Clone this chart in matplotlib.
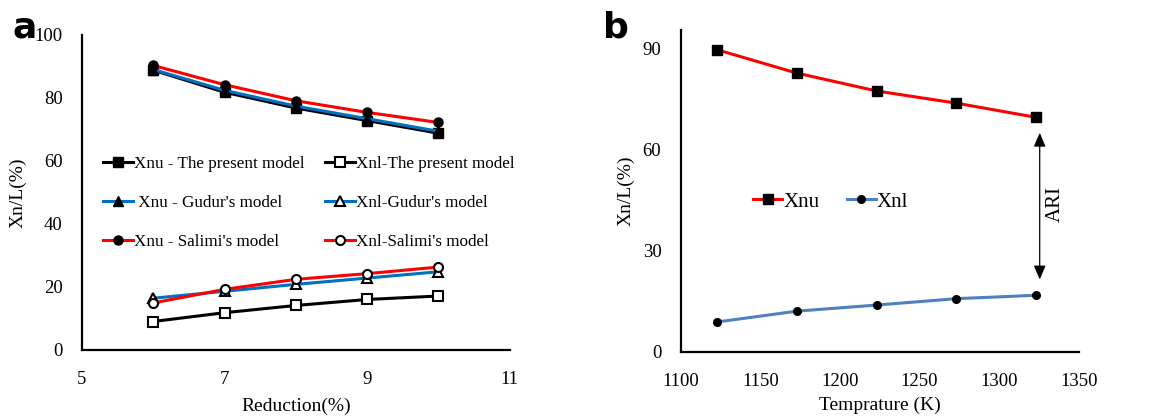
import matplotlib
matplotlib.use("Agg")
import matplotlib.pyplot as plt

plt.rcParams['font.family'] = ['Liberation Serif', 'DejaVu Serif']

# panel a: reduction (%) vs Xn/L (%)
reduction = [6, 7, 8, 9, 10]
xnu_present = [88.8, 81.8, 76.8, 72.8, 68.8]
xnu_gudur = [89.0, 82.4, 77.4, 73.4, 69.4]
xnu_salimi = [90.3, 84.2, 79.1, 75.4, 72.2]
xnl_present = [9.0, 11.8, 14.1, 16.0, 17.1]
xnl_gudur = [16.4, 18.6, 20.8, 22.8, 24.8]
xnl_salimi = [14.9, 19.2, 22.4, 24.2, 26.3]

# panel b: temperature (K) vs Xn/L (%)
temperature = [1123, 1173, 1223, 1273, 1323]
xnu_temp = [89.6, 82.7, 77.4, 73.8, 69.6]
xnl_temp = [8.9, 12.1, 13.9, 15.8, 16.8]

RED = '#FF0000'
BLUE_A = '#0070C0'
BLUE_B = '#4F81BD'
lw = 2.2
ms = 6.5

fig = plt.figure(figsize=(11.5, 4.16), dpi=100)
ax1 = fig.add_axes([0.0713, 0.159, 0.372, 0.757])
ax2 = fig.add_axes([0.592, 0.154, 0.346, 0.774])

# --- panel a
ax1.plot(reduction, xnu_present, color='black', lw=lw, marker='s', ms=ms,
         mfc='black', mec='black', label='Xnu - The present model')
ax1.plot(reduction, xnl_present, color='black', lw=lw, marker='s', ms=ms,
         mfc='white', mec='black', mew=1.5, label='Xnl-The present model')
ax1.plot(reduction, xnu_gudur, color=BLUE_A, lw=lw, marker='^', ms=ms,
         mfc='black', mec='black', label=" Xnu - Gudur's model")
ax1.plot(reduction, xnl_gudur, color=BLUE_A, lw=lw, marker='^', ms=ms,
         mfc='white', mec='black', mew=1.5, label="Xnl-Gudur's model")
ax1.plot(reduction, xnu_salimi, color=RED, lw=lw, marker='o', ms=ms,
         mfc='black', mec='black', label="Xnu - Salimi's model")
ax1.plot(reduction, xnl_salimi, color=RED, lw=lw, marker='o', ms=ms,
         mfc='white', mec='black', mew=1.5, label="Xnl-Salimi's model")

ax1.set_xlim(5, 11)
ax1.set_ylim(0, 100)
ax1.set_xticks([5, 7, 9, 11])
ax1.set_yticks([0, 20, 40, 60, 80, 100])
ax1.set_xlabel('Reduction(%)', fontsize=14, labelpad=7)
ax1.set_ylabel('Xn/L(%)', fontsize=14, labelpad=6)

h, l = ax1.get_legend_handles_labels()
order = [0, 2, 4, 1, 3, 5]
ax1.legend([h[i] for i in order], [l[i] for i in order], ncol=2,
           loc='center', bbox_to_anchor=(0.53, 0.467), frameon=False,
           fontsize=12.3, handlelength=1.75, handletextpad=0.05,
           columnspacing=1.2, labelspacing=1.35)

# --- panel b
ax2.plot(temperature, xnu_temp, color=RED, lw=lw, marker='s', ms=7.5,
         mfc='black', mec='black', label='Xnu')
ax2.plot(temperature, xnl_temp, color=BLUE_B, lw=lw, marker='o', ms=5.5,
         mfc='black', mec='black', label='Xnl')
ax2.set_xlim(1100, 1350)
ax2.set_ylim(0, 95.5)
ax2.set_xticks([1100, 1150, 1200, 1250, 1300, 1350])
ax2.set_yticks([0, 30, 60, 90])
ax2.set_xlabel('Temprature (K)', fontsize=14, labelpad=5)
ax2.set_ylabel('Xn/L(%)', fontsize=14, labelpad=6)
ax2.legend(ncol=2, loc='center', bbox_to_anchor=(0.377, 0.466), frameon=False,
           fontsize=15, handlelength=1.4, handletextpad=0.05, columnspacing=1.3)

ax2.annotate('', xy=(1325.5, 21.5), xytext=(1325.5, 65),
             arrowprops=dict(arrowstyle='<|-|>,head_length=0.7,head_width=0.3',
                             color='black', lw=0.9,
                             mutation_scale=12, shrinkA=0, shrinkB=0))
ax2.text(1335, 44, 'ARI', rotation=90, fontsize=15, ha='center', va='center')

for ax in (ax1, ax2):
    for side in ('top', 'right'):
        ax.spines[side].set_visible(False)
    for side in ('left', 'bottom'):
        ax.spines[side].set_linewidth(1.6)
    ax.tick_params(length=0, labelsize=13.5)
    ax.tick_params(axis='x', pad=15)
    ax.tick_params(axis='y', pad=14)

fig.text(0.011, 0.91, 'a', fontsize=26, fontweight='bold', family='DejaVu Sans')
fig.text(0.524, 0.91, 'b', fontsize=26, fontweight='bold', family='DejaVu Sans')

fig.savefig('out.png', dpi=100)
